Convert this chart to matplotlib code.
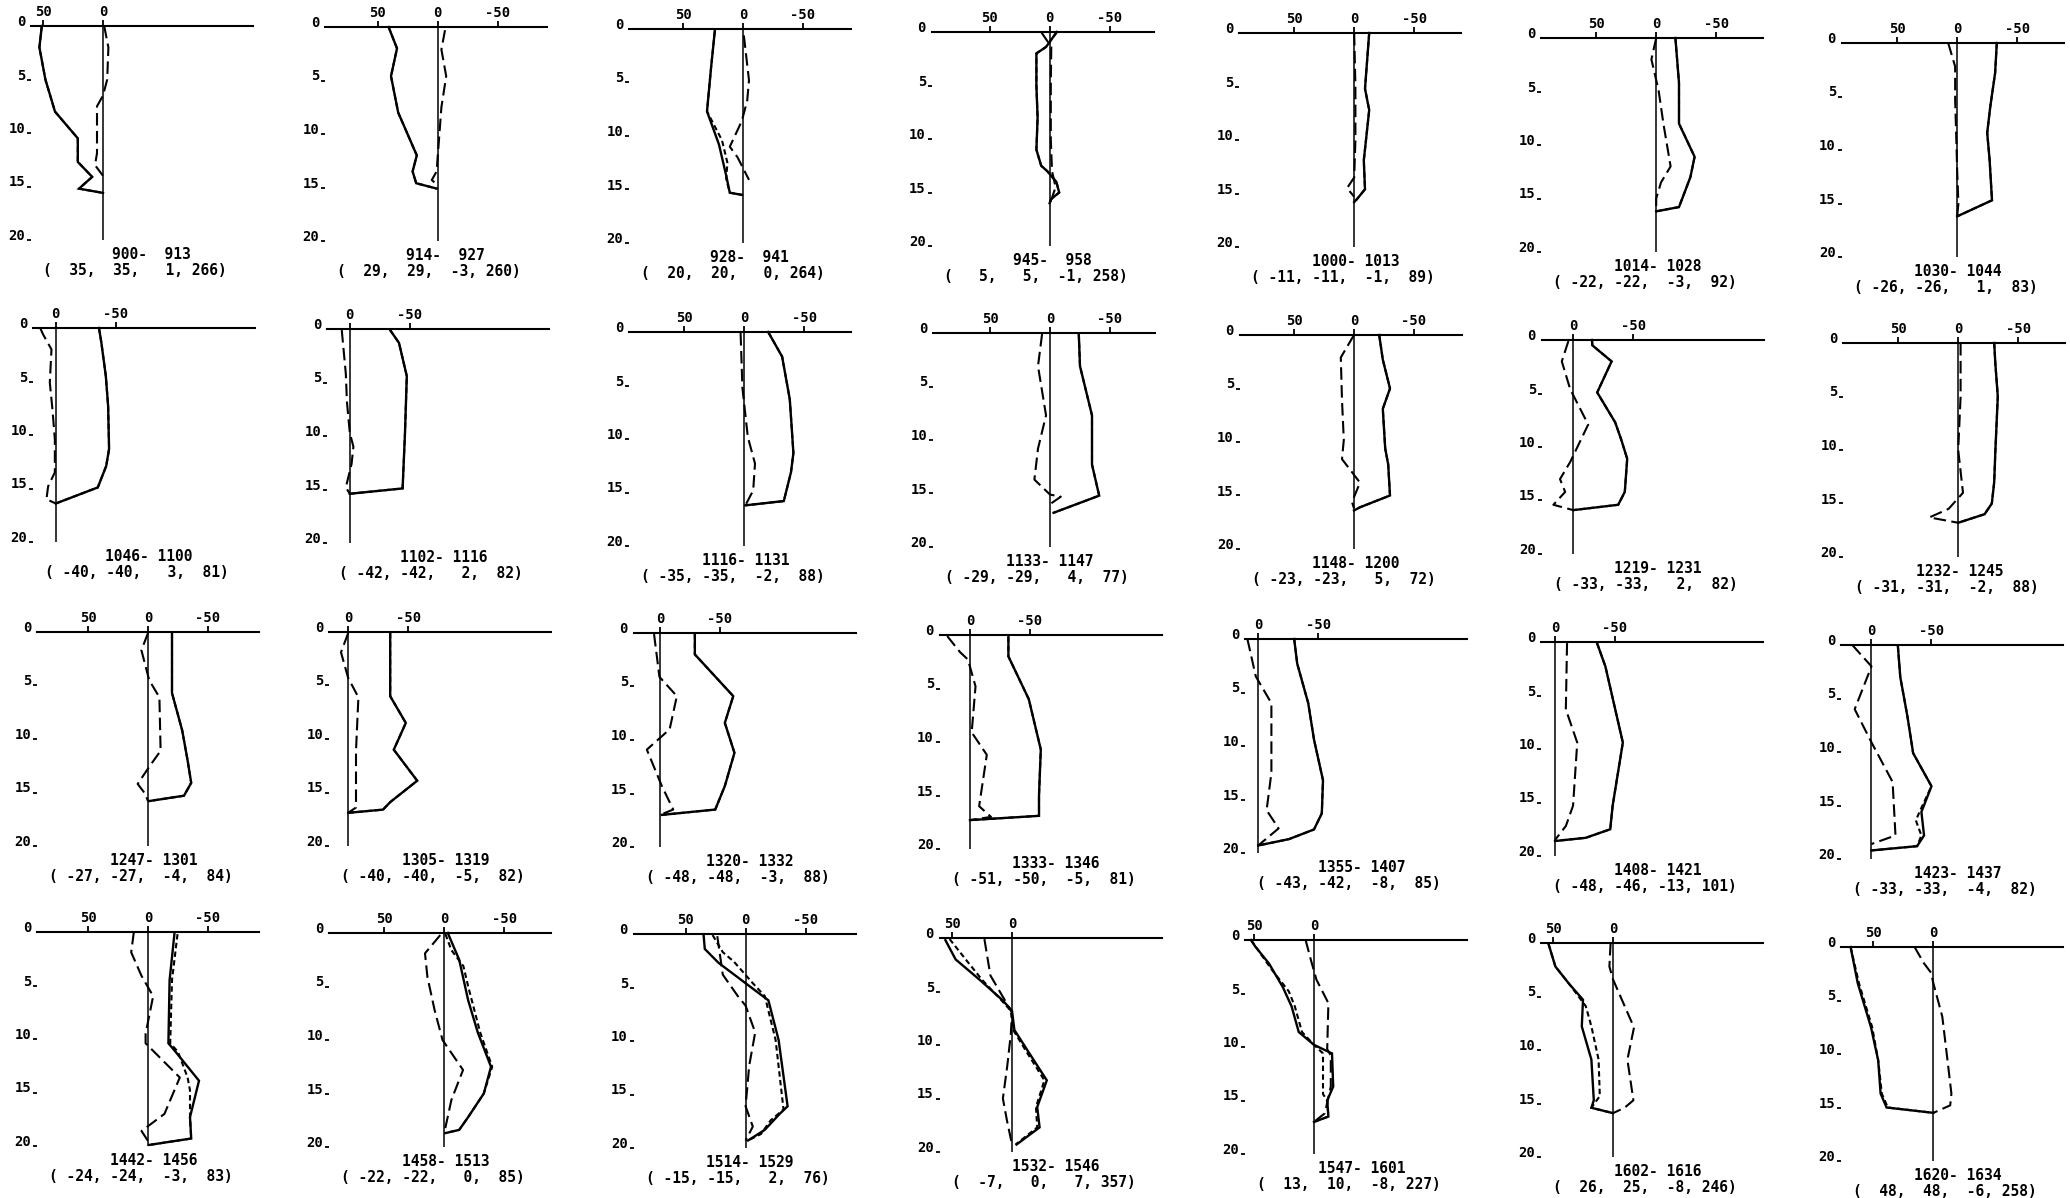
import matplotlib
matplotlib.use("Agg")
import matplotlib.pyplot as plt
from matplotlib.transforms import offset_copy

# ---------------- data ----------------
t_start = [900, 914, 928, 945, 1000, 1014, 1030,
           1046, 1102, 1116, 1133, 1148, 1219, 1232,
           1247, 1305, 1320, 1333, 1355, 1408, 1423,
           1442, 1458, 1514, 1532, 1547, 1602, 1620]
t_end = [913, 927, 941, 958, 1013, 1028, 1044,
         1100, 1116, 1131, 1147, 1200, 1231, 1245,
         1301, 1319, 1332, 1346, 1407, 1421, 1437,
         1456, 1513, 1529, 1546, 1601, 1616, 1634]
stat_a = [35, 29, 20, 5, -11, -22, -26,
          -40, -42, -35, -29, -23, -33, -31,
          -27, -40, -48, -51, -43, -48, -33,
          -24, -22, -15, -7, 13, 26, 48]
stat_b = [35, 29, 20, 5, -11, -22, -26,
          -40, -42, -35, -29, -23, -33, -31,
          -27, -40, -48, -50, -42, -46, -33,
          -24, -22, -15, 0, 10, 25, 48]
stat_c = [1, -3, 0, -1, -1, -3, 1,
          3, 2, -2, 4, 5, 2, -2,
          -4, -5, -3, -5, -8, -13, -4,
          -3, 0, 2, 7, -8, -8, -6]
stat_n = [266, 260, 264, 258, 89, 92, 83,
          81, 82, 88, 77, 72, 82, 88,
          84, 82, 88, 81, 85, 101, 82,
          83, 85, 76, 357, 227, 246, 258]

xticks = [[50, 0], [50, 0, -50], [50, 0, -50], [50, 0, -50], [50, 0, -50], [50, 0, -50], [50, 0, -50],
          [0, -50], [0, -50], [50, 0, -50], [50, 0, -50], [50, 0, -50], [0, -50], [50, 0, -50],
          [50, 0, -50], [0, -50], [0, -50], [0, -50], [0, -50], [0, -50], [0, -50],
          [50, 0, -50], [50, 0, -50], [50, 0, -50], [50, 0], [50, 0], [50, 0], [50, 0]]
xlim_left = [60, 94, 95, 98, 96, 96, 96,
             19, 19, 96, 97.5, 95, 26, 96,
             92.5, 16, 21.7, 25, 11, 11.7, 25.4,
             92.5, 96, 93, 60, 57.5, 60, 77]

depth_ticks = [0, 5, 10, 15, 20]

# solid line
solid_depth = [
    [0, 2, 5, 8, 10.5, 12.7, 14.1, 15.2, 15.6],
    [0, 2, 4.6, 8, 9.8, 12, 13.5, 14.6, 15.1],
    [0.2, 3.6, 7.7, 10.8, 13.7, 15.3, 15.5],
    [0, 1.4, 2, 5, 8, 11, 12.5, 13, 14, 15, 15.6, 16],
    [0, 5.2, 7.2, 11.9, 14.6, 15.5, 15.8],
    [0, 4.2, 8, 11.1, 13, 15.8, 16.2],
    [0, 2.8, 6, 8.4, 10.9, 14.7, 16.2],
    [0, 1.4, 4.5, 7.3, 11.3, 12.9, 14.9, 16.4],
    [0.1, 1.3, 4.4, 9.7, 14.9, 15.4],
    [0, 2.3, 6.3, 11.3, 13.1, 15.8, 16.2],
    [0.1, 3.1, 7.7, 12.3, 15.2, 16.8],
    [0, 2.3, 5, 6.9, 10.6, 12.1, 15, 16.1, 16.4],
    [0, 0.5, 2, 4.9, 7.7, 9.3, 11.1, 14.2, 15.4, 15.9],
    [0, 2, 5, 10, 13, 15, 16, 16.8],
    [0.1, 5.7, 9.2, 12, 14.1, 15.3, 15.8],
    [0.1, 6, 8.5, 11, 13.9, 15.9, 16.6, 16.9],
    [0.1, 2, 5.9, 8.4, 11.2, 14.3, 16.5, 17],
    [0.2, 2, 6, 10.7, 15, 16.9, 17.3],
    [0, 2.3, 6, 9.4, 13.2, 16.3, 17.8, 18.7, 19.3],
    [0.1, 2.3, 9.4, 15.3, 17.5, 18.3, 18.6],
    [0.1, 3, 6.7, 10.1, 13.2, 15.6, 17.8, 18.8, 19.2],
    [0.2, 4.5, 10.4, 11.2, 13.9, 17.3, 19.3, 19.9],
    [0, 2.5, 6.3, 9.3, 12.5, 15, 17.2, 18.4, 18.7],
    [0.1, 1.4, 2.7, 4.6, 6.2, 9.9, 16.1, 16.8, 18.3, 19.3],
    [0.2, 2, 3.9, 5.8, 6.8, 8.6, 10.8, 13.3, 15.8, 17.7, 19.3],
    [0, 0.6, 2.2, 4.4, 6.2, 8.6, 9.8, 10.6, 13.7, 15, 16.5, 17],
    [0.1, 2.2, 3.8, 5.3, 7.8, 10.9, 14.7, 15.4, 15.9],
    [0, 3.4, 7.5, 10.6, 13.7, 15, 15.5],
]
solid_val = [
    [51, 53, 48, 40, 21, 21, 9, 20, 0],
    [41, 34, 39, 33, 26, 17.5, 21, 18, 1],
    [23.5, 26.6, 30, 20, 14, 11, 1],
    [-6, 3, 11, 11, 10, 11, 7, 2, -5.6, -8, -1.4, 0],
    [-12.5, -9, -12.5, -8, -9, -2.5, 0],
    [-16, -19, -19, -32, -28.5, -19, 0],
    [-33, -31.6, -27.5, -25, -27, -29, 0],
    [-36, -38, -41.7, -43.6, -44.4, -42, -35, 0],
    [-33.6, -41, -47.5, -46, -44, 0],
    [-20, -31.6, -38, -41, -39, -33, -1],
    [-24, -25, -35, -35, -41, -3],
    [-21, -24, -30, -24, -26, -28.5, -30, -5, 0],
    [-15.6, -16, -32, -20, -35, -40, -45, -43, -37.5, 0],
    [-30, -31, -33, -31, -30, -28, -22, 0],
    [-20, -20, -28.5, -33, -36, -30, -1],
    [-35, -35, -48, -38, -57.5, -35, -29, 0],
    [-29, -29, -61, -54, -62, -54, -46, -1.5],
    [-32, -32, -49, -59, -57.5, -57.5, 0],
    [-30, -32.5, -41.7, -46.5, -54, -53, -46.5, -25.7, 0],
    [-35, -42, -56.5, -48, -46, -25.6, 0],
    [-22, -24, -30, -34.7, -50, -41.6, -43.8, -38, 0],
    [-22, -18, -17, -23, -42.5, -35, -36, -1],
    [-3, -12.5, -20, -28, -39, -33, -20, -12.5, -1],
    [35, 34, 22.5, 0, -19, -27.5, -35, -28.5, -16, -2],
    [55.5, 47, 27, 8, 0, -2, -14.6, -29, -21, -23, -3.8],
    [52.5, 49, 37.5, 26, 18.7, 12.7, 0, -15, -16, -11, -12, 0],
    [53.7, 48, 36.7, 25, 26, 18, 16, 18, 0],
    [69, 63, 52, 46, 44, 39, 0],
]

# short-dashed line
dot_depth = [
    [0, 2, 5, 8, 10.5, 12.7, 14.1, 15.2, 15.6],
    [0, 2, 4.6, 8, 9.8, 12, 13.5, 14.6, 15.1],
    [0.2, 3.6, 7.7, 10.4, 12.5, 14, 15.3, 15.5],
    [0, 1.4, 2, 5, 8, 11, 12.5, 13, 14, 15, 15.6, 16],
    [0, 5.2, 7.2, 11.9, 14.6, 15.5, 15.8],
    [0, 4.2, 8, 11.1, 13, 15.8, 16.2],
    [0, 2.8, 6, 8.4, 10.9, 14.7, 16.2],
    [0, 1.4, 4.5, 7.3, 11.3, 12.9, 14.9, 16.4],
    [0.1, 1.3, 4.4, 9.7, 14.9, 15.4],
    [0, 2.3, 6.3, 11.3, 13.1, 15.8, 16.2],
    [0.1, 3.1, 7.7, 12.3, 15.2, 16.8],
    [0, 2.3, 5, 6.9, 10.6, 12.1, 15, 16.1, 16.4],
    [0, 0.5, 2, 4.9, 7.7, 9.3, 11.1, 14.2, 15.4, 15.9],
    [0, 2, 5, 10, 13, 15, 16, 16.8],
    [0.1, 5.7, 9.2, 12, 14.1, 15.3, 15.8],
    [0.1, 6, 8.5, 11, 13.9, 15.9, 16.6, 16.9],
    [0.1, 2, 5.9, 8.4, 11.2, 14.3, 16.5, 17],
    [0.2, 2, 6, 10.7, 15, 16.9, 17.3],
    [0, 2.3, 6, 9.4, 13.2, 16.3, 17.8, 18.7, 19.3],
    [0.1, 2.3, 9.4, 15.3, 17.5, 18.3, 18.6],
    [0.1, 3, 6.7, 10.1, 13.2, 15.6, 16.4, 17.8, 18.8, 19.2],
    [0.2, 4.5, 10.4, 11.2, 13.6, 14.8, 17.3, 19.3, 19.9],
    [0.1, 1.6, 3.1, 5, 9.3, 12.5, 15, 17.2, 18.4, 18.7],
    [0.1, 1.7, 2.6, 4.6, 5.8, 9.9, 16.4, 17.4, 18.7, 19.3],
    [0.1, 1.8, 3.9, 5.8, 6.8, 8.6, 10.8, 13.3, 15.8, 17.7, 19.3],
    [0, 2.8, 4.8, 6.2, 8.6, 9.8, 10.6, 14.4, 15, 16.5, 17],
    [0.1, 2.2, 3.8, 5.9, 7.8, 10.9, 14.3, 15.4, 15.9],
    [0, 3.4, 7.5, 10.6, 13.7, 15, 15.5],
]
dot_val = [
    [51, 53, 48, 40, 21, 21, 9, 20, 0],
    [41, 34, 39, 33, 26, 17.5, 21, 18, 1],
    [23.5, 26.6, 30, 17.5, 13, 14, 11, 1],
    [-6, 3, 11, 11, 10, 11, 7, 2, -5.6, -8, -1.4, 0],
    [-12.5, -9, -12.5, -8, -9, -2.5, 0],
    [-16, -19, -19, -32, -28.5, -19, 0],
    [-33, -31.6, -27.5, -25, -27, -29, 0],
    [-36, -38, -41.7, -43.6, -44.4, -42, -35, 0],
    [-33.6, -41, -47.5, -46, -44, 0],
    [-20, -31.6, -38, -41, -39, -33, -1],
    [-24, -25, -35, -35, -41, -3],
    [-21, -24, -30, -24, -26, -28.5, -30, -5, 0],
    [-15.6, -16, -32, -20, -35, -40, -45, -43, -37.5, 0],
    [-30, -31, -33, -31, -30, -28, -22, 0],
    [-20, -20, -28.5, -33, -36, -30, -1],
    [-35, -35, -48, -38, -57.5, -35, -29, 0],
    [-29, -29, -61, -54, -62, -54, -46, -1.5],
    [-32, -32, -49, -59, -57.5, -57.5, 0],
    [-30, -32.5, -41.7, -46.5, -54, -53, -46.5, -25.7, 0],
    [-35, -42, -56.5, -48, -46, -25.6, 0],
    [-22, -24, -30, -34.7, -50, -40, -37, -41.6, -38, 0],
    [-24.6, -20, -18.5, -25, -33, -35, -35, -36, -1],
    [-1, -6, -16, -20, -30, -40, -33, -20, -12.5, -1],
    [27.5, 19, 9.6, -6, -16, -25, -31.6, -21, -12.7, -2],
    [52, 40, 25, 9, 1, -1, -13, -27, -20, -21, -3],
    [52.5, 35, 21, 16, 10, 0, -7.5, -7.5, -11, -12, 0],
    [53.7, 48, 36.7, 22.7, 18, 12, 11, 18, 0],
    [69, 62, 51, 46, 43, 38, 0],
]

# long-dashed line
dash_depth = [
    [0, 2, 5, 6.5, 7.5, 11.9, 13, 14],
    [0.3, 2.1, 4.6, 7.5, 10.5, 13.5, 14.3, 14.8],
    [0.6, 4.8, 6.7, 8.6, 11, 12, 14.1],
    [0, 1.4, 5, 10, 13, 14.5, 15.5, 16],
    [0, 5, 10, 13.5, 14.5, 15.3],
    [0, 2, 4.9, 8, 10, 12, 13.5, 15, 16.2],
    [0, 2.2, 5.3, 8, 12, 15, 16.2],
    [0, 0.6, 2, 5.1, 7.6, 10.4, 13.5, 14.8, 16, 16.4],
    [0.1, 4.2, 6.8, 9.7, 11, 12.6, 14.8, 15.4],
    [0.1, 5.2, 9.8, 12.3, 14.8, 16.2],
    [0.1, 3.1, 7.7, 10.8, 13.7, 15.1, 15.3, 16],
    [0, 2.1, 6.1, 9.8, 11.6, 13.8, 15.6, 16.2],
    [0.1, 2, 4.6, 7.9, 11.4, 13, 14.2, 15.4, 15.9],
    [0, 5, 10, 14, 15.5, 16.3, 16.8],
    [0.1, 1.7, 4.5, 6.1, 11.1, 12.6, 14.2, 15.1, 15.8],
    [0.1, 1.9, 4.3, 6.1, 11.1, 16.4, 16.9],
    [0.1, 4.1, 5.9, 9, 10.9, 14.3, 16.5, 17],
    [0.1, 1.6, 2.3, 4.8, 9.1, 11.2, 16, 17, 17.3],
    [0, 3.5, 6, 12.5, 16, 17.7, 19.3],
    [0.1, 6.3, 9.4, 15.3, 17.2, 18.5],
    [0, 2, 6, 9.1, 12.8, 17.8, 18.6],
    [0, 1.9, 4.1, 6, 9.5, 10.4, 13.6, 17, 18.6, 19.7],
    [0.2, 1.9, 4.1, 7.2, 10, 12.8, 15.6, 18.7],
    [0.2, 3.8, 5.8, 6.7, 9.2, 12.3, 16.1, 18, 19.3],
    [0.1, 3.5, 6, 7, 9, 12, 15, 17, 19.3],
    [0, 1.9, 3.7, 5.9, 10.2, 10.8, 13.7, 16.2, 17],
    [0, 2.2, 3.4, 7.9, 10.9, 14.7, 15.4, 15.9],
    [0, 1.5, 2.4, 3.4, 6.5, 9.6, 13.7, 14.8, 15.5],
]
dash_val = [
    [-1, -4.5, -3.5, 0, 5, 5, 6.7, 0],
    [-6, -3, -7, -3, -1, 1, 5, 0],
    [-0.7, -5, -3.5, 1, 11, 4.5, -5],
    [7, -1.4, -1, -1, -2, -5, -2, 0],
    [0, -1, -1, 0, 6, 0],
    [0, 4, -2, -6, -9, -12, -4, 0, 0],
    [7.5, 1.7, 1.7, 1, 0, -1, 0],
    [13, 10.6, 3.6, 5, 2.8, 0.8, 0.8, 6.4, 7.8, 0],
    [6.7, 3.3, 2.4, 0, -3, -1.5, 3.3, 0],
    [3, 1.5, -3, -9, -7.5, -1],
    [6.6, 10, 3.3, 10, 13, 0, -9, 0],
    [0, 11, 10, 8.5, 10, -5, 1.7, 0],
    [4, 9.5, 2.5, -12.5, 2.5, 11, 6.7, 16.5, 0],
    [-2, -2, 0, -4, 8, 24, 0],
    [0, 5.5, -1, -9.5, -10.5, -1, 8.6, 2.5, 0],
    [0, 6, 0, -8.5, -6.5, -6.5, 0],
    [5, 0.5, -14, -8, 11, -1.5, -11, 0],
    [19, 8.3, 1.7, -4.6, -1.4, -14, -7.6, -17.5, 0],
    [9, 2, -11, -11, -7, -17, 0],
    [-10, -9, -18.5, -15, -9, 0],
    [16, 0, 14, 0, -17.6, -20, 0],
    [11.8, 14, 5.4, -4.3, 2, 2, -26.5, -13.7, 5.4, -1],
    [3.3, 16, 14, 8, 1.4, -15.7, -6, 0],
    [23.6, 19, 6.5, 0, -8, -3, 0, -6, 0],
    [23, 18, 5, 0, 1, 4, 7.6, 4.3, 0],
    [7, 2.5, -2, -12, -11, -14, -14, -9, 0],
    [2, 3, 0, -17.5, -12, -17, -9.6, 0],
    [15.7, 8, 2, 0, -7.4, -10.7, -15, -14, 0],
]

# ---------------- layout ----------------
FIG_W, FIG_H = 2070, 1198
panel_left_px = [[31, 325, 629, 932, 1239, 1541, 1842],
                 [33, 327, 629, 933, 1240, 1542, 1843],
                 [37, 329, 634, 940, 1245, 1541, 1841],
                 [37, 329, 634, 940, 1245, 1541, 1841]]
panel_top_px = [[26, 27, 29, 32, 33, 38, 43],
                [328, 329, 332, 333, 335, 340, 343],
                [632, 632, 633, 635, 639, 642, 645],
                [932, 933, 934, 938, 940, 943, 947]]
AX_W, AX_H = 222, 214
PX_PER_UNIT = 1.2

MONO = 'DejaVu Sans Mono'
plt.rcParams['axes.unicode_minus'] = False

fig = plt.figure(figsize=(FIG_W / 100, FIG_H / 100), dpi=100)
fig.patch.set_facecolor('white')

for i in range(28):
    r, c = divmod(i, 7)
    L = panel_left_px[r][c]
    T = panel_top_px[r][c]
    ax = fig.add_axes([L / FIG_W, 1 - (T + AX_H) / FIG_H, AX_W / FIG_W, AX_H / FIG_H])
    ax.set_facecolor('none')
    ax.set_xlim(xlim_left[i], xlim_left[i] - AX_W / PX_PER_UNIT)
    ax.set_ylim(20, 0)
    for s in ('left', 'right', 'bottom'):
        ax.spines[s].set_visible(False)
    ax.spines['top'].set_linewidth(1.5)

    # top value axis
    ax.xaxis.tick_top()
    ax.set_xticks(xticks[i], [str(v) for v in xticks[i]])
    ax.tick_params(axis='x', which='both', top=True, bottom=False, labeltop=True,
                   labelbottom=False, direction='out', length=4.5, width=1.3, pad=0.5)
    for lab in ax.get_xticklabels():
        lab.set_fontfamily(MONO)
        lab.set_fontweight('bold')
        lab.set_fontsize(10)

    # depth axis: short tick marks + labels with baseline at depth
    ax.set_yticks(depth_ticks[1:])
    ax.tick_params(axis='y', left=True, labelleft=False, direction='out', length=3, width=1.3)
    ylab_tr = offset_copy(ax.get_yaxis_transform(), fig=fig, x=-6, y=0, units='dots')
    for d in depth_ticks:
        ax.text(0, d, str(d), transform=ylab_tr, ha='right', va='baseline',
                fontfamily=MONO, fontweight='bold', fontsize=10)

    # zero line
    ax.axvline(0, ymin=0, ymax=1, color='black', lw=1.1, zorder=2)

    # profiles
    ax.plot(solid_val[i], solid_depth[i], color='black', lw=1.7, solid_joinstyle='miter',
            clip_on=False, zorder=3)
    ax.plot(dot_val[i], dot_depth[i], color='black', lw=1.5, linestyle=(0, (2.6, 1.6)),
            clip_on=False, zorder=4)
    ax.plot(dash_val[i], dash_depth[i], color='black', lw=1.5, linestyle=(0, (6, 2.6)),
            clip_on=False, zorder=4)

    # captions
    tr1 = offset_copy(ax.transAxes, fig=fig, x=160 - AX_W, y=-19, units='dots')
    ax.text(1, 0, f"{t_start[i]}-{t_end[i]:5d}", transform=tr1, ha='right', va='baseline',
            fontfamily=MONO, fontweight='bold', fontsize=10.5)
    tr2 = offset_copy(ax.transAxes, fig=fig, x=104, y=-35, units='dots')
    ax.text(0, 0, f"({stat_a[i]:4d},{stat_b[i]:4d},{stat_c[i]:4d},{stat_n[i]:4d})",
            transform=tr2, ha='center', va='baseline',
            fontfamily=MONO, fontweight='bold', fontsize=10.5)

fig.savefig('out.png', dpi=100, facecolor='white')
